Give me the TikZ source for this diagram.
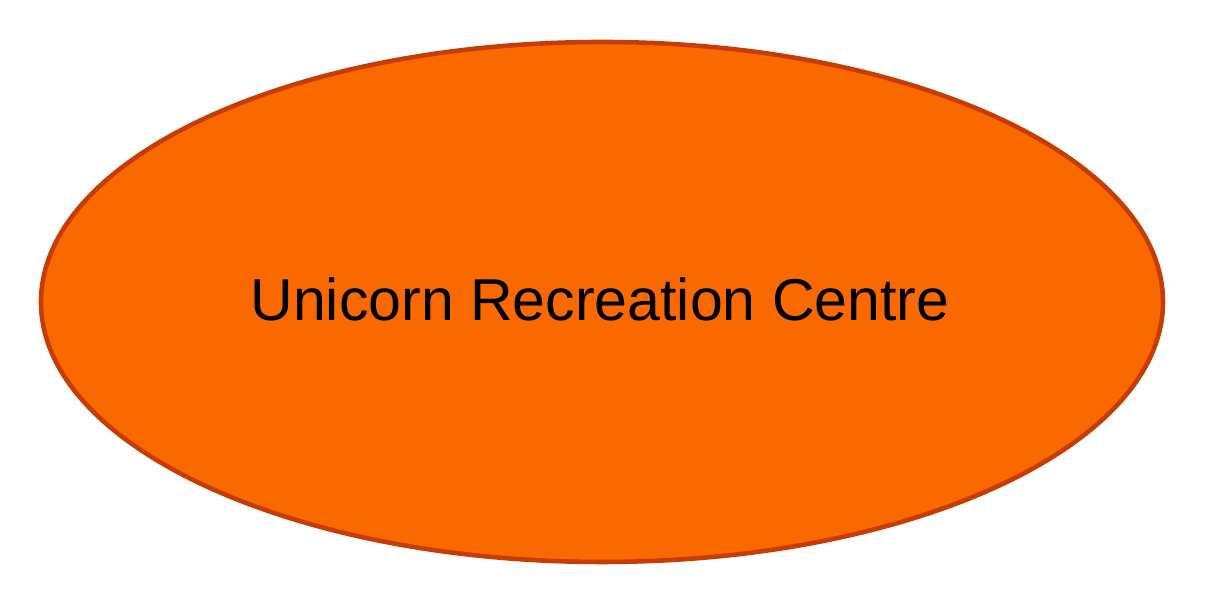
\documentclass[tikz,border=0pt]{standalone}
\usepackage{fontspec}
\setmainfont{Liberation Sans}
\usetikzlibrary{shapes.geometric}
\definecolor{fillor}{HTML}{FA6800}
\definecolor{edgeor}{HTML}{C73C00}
\tikzset{oval/.style={ellipse, draw=edgeor, fill=fillor, line width=1.3pt, minimum width=11.22cm, minimum height=5.2cm, inner sep=0pt}}
\begin{document}
\begin{tikzpicture}
\useasboundingbox (0,0) rectangle (12.08,6.04);
\node[oval] (c) at (6.02,3.02) {};
\node[font=\fontsize{16.8pt}{20pt}\selectfont] (t) at (6.0,3.05) {Unicorn Recreation Centre};
\end{tikzpicture}
\end{document}
